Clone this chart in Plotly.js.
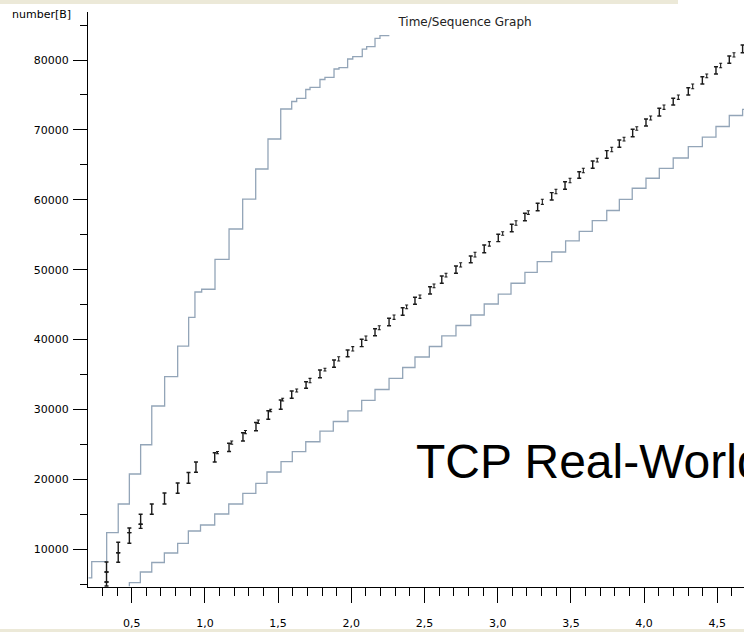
<!DOCTYPE html>
<html>
<head>
<meta charset="utf-8">
<script src="https://cdn.plot.ly/plotly-3.0.1.min.js"></script>
<style>html,body{margin:0;padding:0;background:#fff;}#chart{width:744px;height:632px;}</style>
</head>
<body>
<div id="chart"></div>
<script>
// ---- data (time in s, sequence number in bytes) ----
// receive-window line (upper staircase)
const winTime = [0.205, 0.227, 0.329, 0.408, 0.484, 0.561, 0.637, 0.725, 0.814, 0.889, 0.932, 0.978, 1.069, 1.165, 1.258, 1.347, 1.431, 1.518, 1.593, 1.627, 1.689, 1.718, 1.786, 1.820, 1.882, 1.916, 1.975, 2.010, 2.075, 2.105, 2.162, 2.196, 2.260];
const winSeq  = [5900, 8230, 12380, 16480, 20770, 24960, 30500, 34690, 39080, 43190, 46810, 47200, 51490, 55820, 60110, 64410, 68700, 72990, 74060, 74520, 75780, 76090, 77210, 77520, 78710, 78900, 80140, 80470, 81570, 81900, 83080, 83480, 83480];

// ACK line (lower staircase)
const ackTime = [0.484, 0.484, 0.559, 0.637, 0.723, 0.814, 0.887, 0.970, 1.067, 1.163, 1.259, 1.348, 1.424, 1.520, 1.597, 1.689, 1.786, 1.877, 1.977, 2.071, 2.162, 2.258, 2.351, 2.435, 2.533, 2.618, 2.715, 2.816, 2.908, 3.004, 3.091, 3.186, 3.270, 3.369, 3.464, 3.557, 3.646, 3.745, 3.831, 3.919, 4.013, 4.104, 4.199, 4.302, 4.398, 4.491, 4.582, 4.673, 4.750];
const ackSeq  = [4700, 5220, 6750, 8110, 9470, 10860, 12620, 13480, 15050, 16480, 18010, 19440, 21060, 22530, 23960, 25390, 26920, 28280, 29790, 31320, 32860, 34460, 36010, 37510, 39010, 40520, 42020, 43520, 45090, 46520, 48060, 49630, 51150, 52530, 54110, 55470, 57010, 58470, 60070, 61650, 63080, 64510, 65980, 67600, 68980, 70490, 72060, 72950, 72950];

// data segments (I-bars): time, first byte, last byte
const segTime  = [0.328, 0.328, 0.328, 0.408, 0.408, 0.484, 0.484, 0.561, 0.561, 0.637, 0.724, 0.814, 0.888, 0.939, 1.067, 1.165, 1.260, 1.349, 1.433, 1.518, 1.593, 1.691, 1.786, 1.882, 1.975, 2.071, 2.162, 2.258, 2.351, 2.435, 2.538, 2.618, 2.715, 2.816, 2.908, 3.004, 3.096, 3.186, 3.273, 3.369, 3.460, 3.557, 3.649, 3.745, 3.831, 3.922, 4.013, 4.104, 4.199, 4.302, 4.398, 4.491, 4.582, 4.673];
const segStart = [4750, 5320, 6750, 8140, 9510, 10860, 12380, 13000, 13580, 15010, 16480, 18010, 19440, 21020, 22490, 23990, 25490, 26970, 28600, 30030, 31600, 33030, 34550, 36040, 37550, 38990, 40560, 41990, 43480, 45050, 46520, 48060, 49490, 51000, 52430, 54010, 55440, 57010, 58440, 59970, 61500, 63080, 64510, 65940, 67510, 69030, 70560, 71990, 73560, 74990, 76570, 78000, 79530, 81040];
const segEnd   = [5320, 6750, 8180, 9510, 11000, 12380, 13050, 13580, 15010, 16480, 18050, 19490, 20990, 22490, 23820, 25170, 26680, 28140, 29830, 31360, 32650, 33980, 35650, 37080, 38510, 40040, 41560, 43050, 44560, 46050, 47570, 49100, 50530, 51960, 53530, 55070, 56500, 58070, 59500, 61020, 62590, 64020, 65550, 67030, 68560, 70090, 71560, 73090, 74520, 76040, 77610, 79040, 80570, 82150];

// short follow-up segments
const subTime  = [1.086, 1.183, 1.277, 1.365, 1.449, 1.531, 1.627, 1.718, 1.820, 1.914, 2.010, 2.100, 2.191, 2.292, 2.378, 2.469, 2.565, 2.647, 2.747, 2.845, 2.943, 3.034, 3.125, 3.209, 3.305, 3.398, 3.494, 3.585, 3.680, 3.779, 3.863, 3.950, 4.045, 4.136, 4.234, 4.332, 4.428, 4.523, 4.614, 4.703];
const subStart = [23680, 25020, 26530, 27990, 29680, 31210, 32500, 33830, 35500, 36930, 38360, 39890, 41410, 42900, 44410, 45900, 47420, 48950, 50380, 51810, 53380, 54920, 56350, 57920, 59350, 60870, 62440, 63870, 65400, 66880, 68410, 69940, 71410, 72940, 74370, 75890, 77460, 78890, 80420, 82000];
const subEnd   = [23990, 25490, 27000, 28500, 30030, 31600, 32930, 34460, 35900, 37550, 38990, 40520, 41990, 43520, 44950, 46380, 47960, 49490, 51000, 52490, 54010, 55440, 57010, 58440, 60070, 61500, 63080, 64510, 65940, 67510, 68940, 70460, 71990, 73560, 74990, 76570, 78000, 79530, 81040, 82600];

const xTickStep = 0.5, xMinorStep = 0.1;
const yTickStep = 10000, yMinorStep = 5000;

// ---- drawing ----
function ibars(t, lo, hi, capW, thick) {
  const mid = lo.map((v, i) => (v + hi[i]) / 2);
  return {
    type: 'scatter', mode: 'markers', x: t, y: mid,
    marker: {size: 1, color: 'rgba(0,0,0,0)'},
    error_y: {type: 'data', symmetric: false,
      array: hi.map((v, i) => v - mid[i]),
      arrayminus: mid.map((v, i) => v - lo[i]),
      width: capW, thickness: thick, color: '#1a1a1a'},
    hoverinfo: 'skip'
  };
}

const lineCol = '#93a5b8';
const traces = [
  {type: 'scatter', mode: 'lines', x: winTime, y: winSeq, line: {shape: 'hv', color: lineCol, width: 1.3}, hoverinfo: 'skip'},
  {type: 'scatter', mode: 'lines', x: ackTime, y: ackSeq, line: {shape: 'hv', color: lineCol, width: 1.3}, hoverinfo: 'skip'},
  ibars(segTime, segStart, segEnd, 2, 1.4),
  ibars(subTime, subStart, subEnd, 1.5, 1.1)
];

const tickFont = {family: 'DejaVu Sans, sans-serif', size: 11, color: '#000'};
const layout = {
  width: 744, height: 632,
  margin: {l: 88, r: 0, t: 12, b: 45, pad: 0},
  paper_bgcolor: '#ffffff', plot_bgcolor: '#ffffff',
  showlegend: false,
  separators: ',.',
  title: {text: 'Time/Sequence Graph', x: 0.625, xref: 'container', xanchor: 'center',
          y: 0.966, yref: 'container', yanchor: 'middle',
          font: {family: 'DejaVu Sans, sans-serif', size: 12, color: '#222'}},
  xaxis: {
    range: [0.2015, 4.6825], tickmode: 'linear', tick0: 0, dtick: xTickStep, tickformat: '.1f',
    ticks: 'outside', ticklen: 15, tickwidth: 1, tickcolor: '#000', ticklabelstandoff: 11,
    showline: true, linecolor: '#000', linewidth: 1, showgrid: false, zeroline: false,
    tickfont: tickFont,
    minor: {tick0: 0, dtick: xMinorStep, ticks: 'outside', ticklen: 8, tickwidth: 1, tickcolor: '#000', showgrid: false}
  },
  yaxis: {
    range: [4607, 86867], tickmode: 'linear', tick0: 0, dtick: yTickStep, tickformat: 'd',
    ticks: 'outside', ticklen: 14, tickwidth: 1, tickcolor: '#000', ticklabelstandoff: 2,
    showline: true, linecolor: '#000', linewidth: 1, showgrid: false, zeroline: false,
    tickfont: tickFont,
    minor: {tick0: 0, dtick: yMinorStep, ticks: 'outside', ticklen: 7, tickwidth: 1, tickcolor: '#000', showgrid: false}
  },
  annotations: [
    {text: 'number[B]', xref: 'paper', yref: 'paper', x: -0.1189, xanchor: 'left', y: 0.9948, yanchor: 'middle',
     showarrow: false, font: tickFont},
    {text: 'TCP Real-World', xref: 'paper', yref: 'paper', x: 0.4977, xanchor: 'left', y: 0.2183, yanchor: 'middle',
     showarrow: false, font: {family: 'Liberation Sans, Arial, sans-serif', size: 48, color: '#000'}}
  ],
  shapes: [
    {type: 'rect', xref: 'paper', yref: 'paper', x0: -0.1342, x1: 0.8994, y0: 1.01391, y1: 1.0209,
     fillcolor: '#ece9d8', line: {width: 0}, layer: 'above'},
    {type: 'rect', xref: 'paper', yref: 'paper', x0: -0.1342, x1: 1.0, y0: -0.07826, y1: -0.07304,
     fillcolor: '#ece9d8', line: {width: 0}, layer: 'above'}
  ]
};

Plotly.newPlot('chart', traces, layout, {staticPlot: true, displayModeBar: false});
</script>
</body>
</html>
